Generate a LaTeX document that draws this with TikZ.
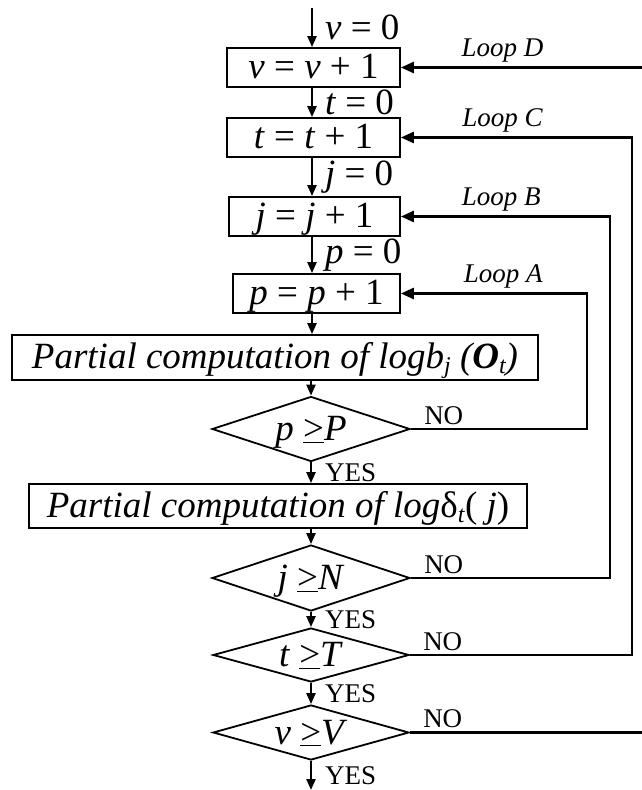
\documentclass[tikz,border=0pt]{standalone}
\usepackage{fontspec}
\setmainfont{Liberation Serif}
\usetikzlibrary{arrows.meta,shapes.geometric}
\newcommand{\lowsub}[1]{\raisebox{-0.3ex}{\fontsize{24}{24}\selectfont #1}}
\newcommand{\ulgt}{\underline{>}}

\begin{document}
\begin{tikzpicture}[x=1pt, y=1pt,
  font=\fontsize{37}{40}\selectfont,
  box/.style={draw, line width=1.8pt, inner sep=0pt, minimum height=#1,
    text height=25pt, text depth=3pt},
  box/.default=39pt,
  decision/.style={diamond, aspect=3.5, draw, line width=1.8pt, inner sep=0pt,
    minimum width=198pt, minimum height=#1, text height=25pt, text depth=2pt},
  flow/.style={-{Triangle[length=11pt,width=9pt]}, line width=2.2pt},
  loopback/.style={-{Triangle[length=13pt,width=11pt]}, line width=2.7pt},
  eqlabel/.style={right=10pt, inner sep=2pt},
  loopname/.style={font=\fontsize{27}{30}\selectfont\itshape, above, inner sep=4pt},
  nolabel/.style={font=\fontsize{27}{30}\selectfont, anchor=south west,
    inner sep=3pt, xshift=9pt},
  yeslabel/.style={font=\fontsize{27}{30}\selectfont, right=10pt, inner sep=3pt}
]
\useasboundingbox (0,0) rectangle (642,-790);
\clip (0,0) rectangle (642,-790);

% main column
\coordinate (col) at (312,0);
\coordinate (start) at (312,-8);
\coordinate (finish) at (311,-790);
\node[box, minimum width=173pt] (boxv) at (313.5,-67.5) {\textit{v} = \textit{v} + 1};
\node[box, minimum width=173pt] (boxt) at (313.5,-137.5) {\textit{t} = \textit{t} + 1};
\node[box, minimum width=171pt] (boxj) at (314.5,-216.5) {\textit{j} = \textit{j} + 1};
\node[box, minimum width=167pt] (boxp) at (316.5,-293.5) {\textit{p} = \textit{p} + 1};
\node[box=45pt, minimum width=526pt] (boxbj) at (275,-357.5)
  {\textit{Partial computation of logb\lowsub{j} (\textbf{O}\lowsub{t})}};
\node[decision=65pt] (dP) at (311,-429) {\textit{p} \ulgt\textit{P}};
\node[box=44pt, minimum width=498pt] (boxdelta) at (278,-506)
  {\textit{Partial computation of log}δ\lowsub{\textit{t}}( \textit{j})};
\node[decision=66pt] (dN) at (311,-578) {\textit{j} \ulgt\textit{N}};
\node[decision=54pt, minimum width=196pt] (dT) at (311,-655) {\textit{t} \ulgt\textit{T}};
\node[decision=55pt, minimum width=196pt] (dV) at (311,-732.5) {\textit{v} \ulgt\textit{V}};

\draw[flow] (start) -- node[eqlabel] {\textit{v} = 0} (start |- boxv.north);
\draw[flow] (boxv.south -| col) -- node[eqlabel] {\textit{t} = 0} (boxt.north -| col);
\draw[flow] (boxt.south -| col) -- node[eqlabel] {\textit{j} = 0} (boxj.north -| col);
\draw[flow] (boxj.south -| col) -- node[eqlabel] {\textit{p} = 0} (boxp.north -| col);
\draw[flow] (boxp.south -| col) -- (boxbj.north -| col);
\draw[flow] (boxbj.south -| dP.north) -- (dP.north);
\draw[flow] (dP.south) -- node[yeslabel] {YES} (boxdelta.north -| dP.south);
\draw[flow] (boxdelta.south -| dN.north) -- (dN.north);
\draw[flow] (dN.south) -- node[yeslabel] {YES} (dT.north);
\draw[flow] (dT.south) -- node[yeslabel] {YES} (dV.north);
\draw[flow] (dV.south) -- node[yeslabel] {YES} (finish);

% loops
\coordinate (xA) at (587,0);
\coordinate (xB) at (610,0);
\coordinate (xC) at (632,0);
\coordinate (xD) at (655,0);
\draw[loopback] (dP.east) node[nolabel] {NO} -| (xA |- boxp.east)
  -- node[loopname, pos=0.45] {Loop A} (boxp.east);
\draw[loopback] (dN.east) node[nolabel] {NO} -| (xB |- boxj.east)
  -- node[loopname, pos=0.52] {Loop B} (boxj.east);
\draw[loopback] (dT.east) node[nolabel] {NO} -| (xC |- boxt.east)
  -- node[loopname, pos=0.56] {Loop C} (boxt.east);
\draw[loopback] (dV.east) node[nolabel] {NO} -| (xD |- boxv.east)
  -- node[loopname, pos=0.6] {Loop D} (boxv.east);
\end{tikzpicture}
\end{document}
